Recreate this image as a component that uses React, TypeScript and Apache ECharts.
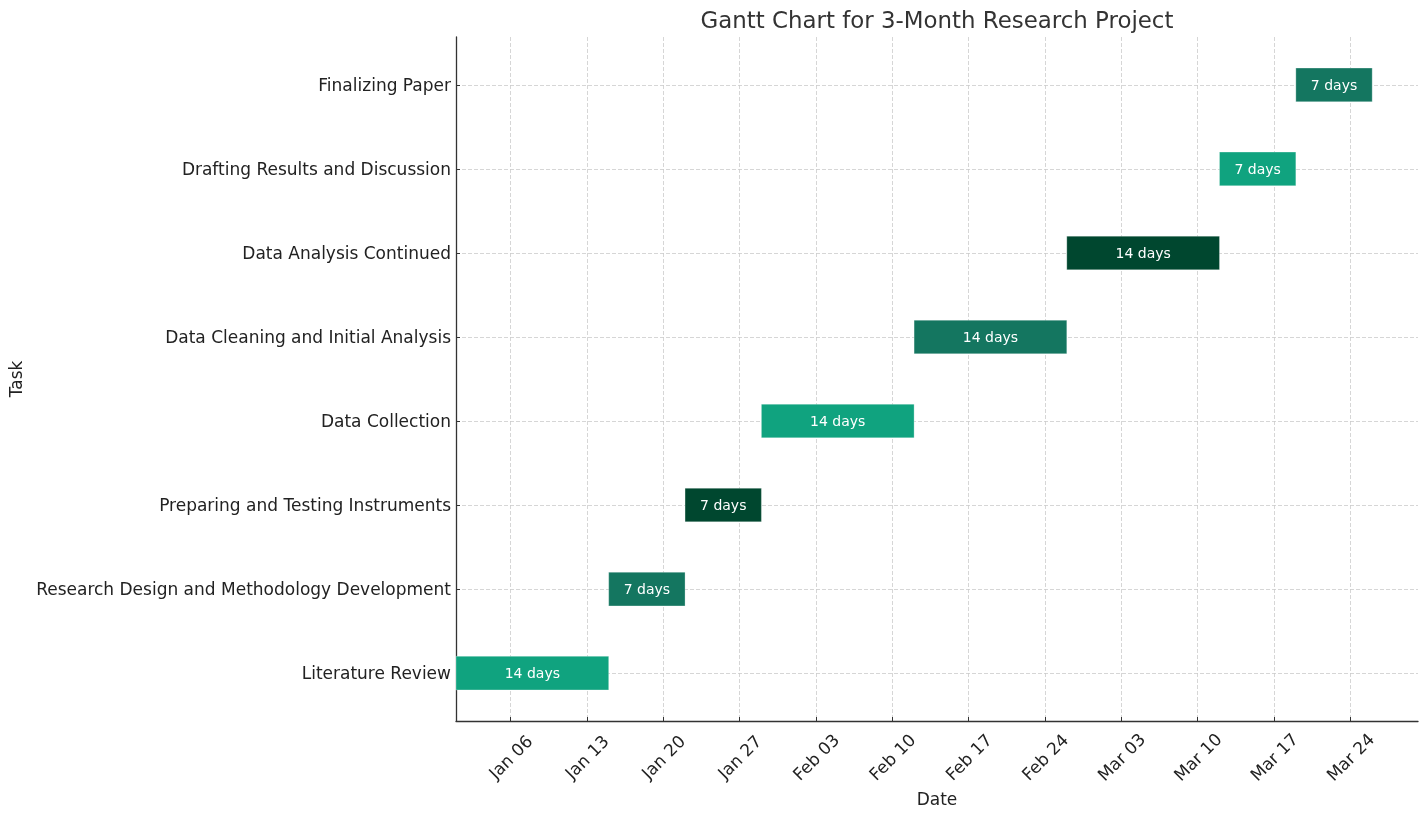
import React, { useEffect, useRef } from "react";
import * as echarts from "echarts";

const tasks = [
  "Literature Review",
  "Research Design and Methodology Development",
  "Preparing and Testing Instruments",
  "Data Collection",
  "Data Cleaning and Initial Analysis",
  "Data Analysis Continued",
  "Drafting Results and Discussion",
  "Finalizing Paper",
];
const startDates = [
  "2023-01-01",
  "2023-01-15",
  "2023-01-22",
  "2023-01-29",
  "2023-02-12",
  "2023-02-26",
  "2023-03-12",
  "2023-03-19",
];
const durations = [14, 7, 7, 14, 14, 14, 7, 7];
const barColors = ["#10a37f", "#147660", "#00472f", "#10a37f", "#147660", "#00472f", "#10a37f", "#147660"];
const tickDates = [
  "2023-01-06", "2023-01-13", "2023-01-20", "2023-01-27", "2023-02-03", "2023-02-10",
  "2023-02-17", "2023-02-24", "2023-03-03", "2023-03-10", "2023-03-17", "2023-03-24",
];
const tickLabels = [
  "Jan 06", "Jan 13", "Jan 20", "Jan 27", "Feb 03", "Feb 10",
  "Feb 17", "Feb 24", "Mar 03", "Mar 10", "Mar 17", "Mar 24",
];
const originDate = "2023-01-01";
const xMaxDays = 88.2;

const dayOffset = (d: string) =>
  Math.round((Date.parse(d + "T00:00:00Z") - Date.parse(originDate + "T00:00:00Z")) / 86400000);

export default function App() {
  const ref = useRef<HTMLDivElement>(null);
  useEffect(() => {
    if (!ref.current) return;
    const chart = echarts.init(ref.current, null, { renderer: "svg" });
    const tickVals = tickDates.map(dayOffset);
    const data = tasks.map((t, i) => {
      const s = dayOffset(startDates[i]);
      return [s, s + durations[i], i, durations[i]];
    });
    const font = "DejaVu Sans";
    const gridLine = { show: true, lineStyle: { color: "#cccccc", type: [4, 2], width: 0.8 } };
    chart.setOption({
      animation: false,
      textStyle: { fontFamily: font },
      title: {
        text: "Gantt Chart for 3-Month Research Project",
        left: 937,
        textAlign: "center",
        top: 8,
        padding: 0,
        textStyle: { fontFamily: font, fontSize: 22.9, fontWeight: "normal", color: "#333333" },
      },
      grid: { left: 456, right: 10, top: 37, bottom: 93, containLabel: false, outerBoundsMode: "none" },
      xAxis: {
        type: "value",
        min: 0,
        max: xMaxDays,
        name: "Date",
        nameLocation: "middle",
        nameGap: 60,
        nameTextStyle: { fontFamily: font, fontSize: 17, color: "#222222" },
        axisLine: { show: true, onZero: false, lineStyle: { color: "#333333", width: 1.3 } },
        axisTick: { show: true, inside: true, length: 4, customValues: tickVals, lineStyle: { color: "#333333" } },
        axisLabel: {
          customValues: tickVals,
          formatter: (v: number) => tickLabels[tickVals.indexOf(Math.round(v))] ?? "",
          rotate: 45,
          align: "center",
          verticalAlign: "middle",
          margin: 36,
          fontFamily: font,
          fontSize: 17,
          color: "#222222",
        },
        splitLine: gridLine,
      },
      yAxis: {
        type: "value",
        min: -0.57,
        max: 7.57,
        name: "Task",
        nameLocation: "middle",
        nameGap: 432,
        nameTextStyle: { fontFamily: font, fontSize: 17, color: "#222222" },
        axisLine: { show: true, onZero: false, lineStyle: { color: "#333333", width: 1.3 } },
        axisTick: { show: true, inside: true, length: 4, customValues: tasks.map((_, i) => i), lineStyle: { color: "#333333" } },
        axisLabel: {
          customValues: tasks.map((_, i) => i),
          formatter: (v: number) => tasks[Math.round(v)] ?? "",
          margin: 5,
          fontFamily: font,
          fontSize: 17,
          color: "#222222",
        },
        splitLine: gridLine,
      },
      series: [
        {
          type: "custom",
          encode: { x: [0, 1], y: 2 },
          data,
          renderItem: (params: any, api: any) => {
            const s = api.value(0);
            const e = api.value(1);
            const y = api.value(2);
            const p0 = api.coord([s, y]);
            const p1 = api.coord([e, y]);
            const h = api.size([0, 0.4])[1];
            return {
              type: "rect",
              shape: { x: p0[0], y: p0[1] - h / 2, width: p1[0] - p0[0], height: h },
              style: { fill: barColors[params.dataIndex], stroke: "rgba(255,255,255,0.35)", lineWidth: 0.8 },
              textContent: {
                style: {
                  text: api.value(3) + " days",
                  fill: "#ffffff",
                  fontSize: 14,
                  fontFamily: font,
                },
              },
              textConfig: { position: "inside" },
            };
          },
        },
      ],
    });
    return () => chart.dispose();
  }, []);
  return <div ref={ref} style={{ position: "fixed", left: 0, top: 0, width: 1428, height: 814 }} />;
}
